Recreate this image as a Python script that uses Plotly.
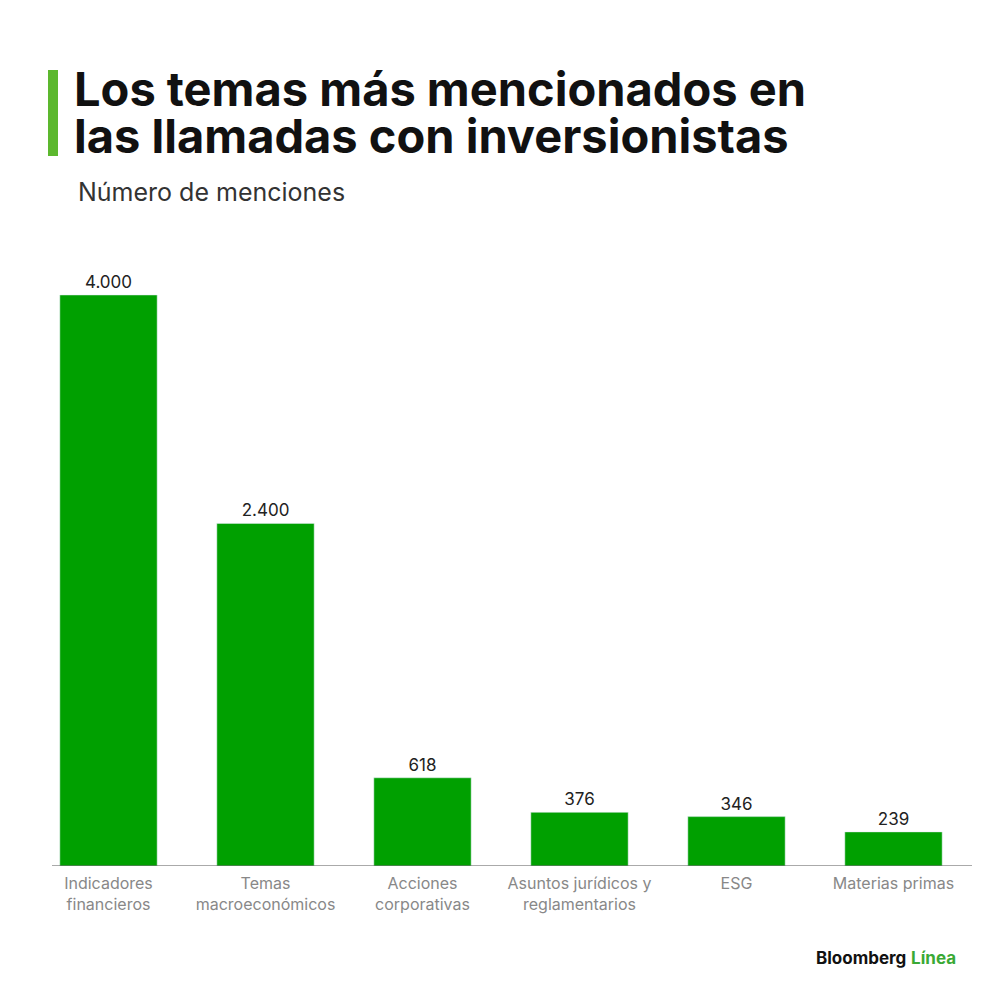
import plotly.graph_objects as go

categories = ["Indicadores<br>financieros", "Temas<br>macroeconómicos", "Acciones<br>corporativas",
              "Asuntos jurídicos y<br>reglamentarios", "ESG", "Materias primas"]
values = [4000, 2400, 618, 376, 346, 239]
labels = ["4.000", "2.400", "618", "376", "346", "239"]

def px(p): return (p - 30) / 942
def py(p): return (858 - p) / 600

fig = go.Figure(go.Bar(x=categories, y=values, text=labels, textposition="outside",
                       marker_color="#00a000", textfont=dict(size=17, color="#222"),
                       cliponaxis=False))
fig.update_layout(
    width=1000, height=1000, paper_bgcolor="white", plot_bgcolor="white",
    margin=dict(l=22, r=36, t=258, b=142), bargap=0.38, showlegend=False,
    font=dict(family="Inter, Roboto, sans-serif"),
    xaxis=dict(showline=False, ticks="", ticklabelstandoff=6, tickfont=dict(size=16, color="#888")),
    yaxis=dict(range=[0, 4203], visible=False),
    shapes=[
        dict(type="line", xref="paper", yref="y", x0=px(52), x1=px(972), y0=0, y1=0,
             line=dict(color="#555", width=1)),
        dict(type="rect", xref="paper", yref="paper", x0=px(48), x1=px(58),
             y0=py(148), y1=py(62), fillcolor="#5cb82e", line_width=0),
    ],
    annotations=[
        dict(xref="paper", yref="paper", x=px(72), y=py(80), xanchor="left", yanchor="middle",
             showarrow=False, text="<b>Los temas más mencionados en</b>",
             font=dict(size=47, color="#111")),
        dict(xref="paper", yref="paper", x=px(72), y=py(127), xanchor="left", yanchor="middle",
             showarrow=False, text="<b>las llamadas con inversionistas</b>",
             font=dict(size=47, color="#111")),
        dict(xref="paper", yref="paper", x=px(76), y=py(184), xanchor="left", yanchor="middle",
             showarrow=False, text="Número de menciones", font=dict(size=25, color="#333")),
        dict(xref="paper", yref="paper", x=px(958), y=py(950), xanchor="right", yanchor="middle",
             showarrow=False, text="<b>Bloomberg</b> <span style='color:#3aa935'><b>Línea</b></span>",
             font=dict(size=17, color="#111")),
    ],
)
fig.write_html("out.html")
